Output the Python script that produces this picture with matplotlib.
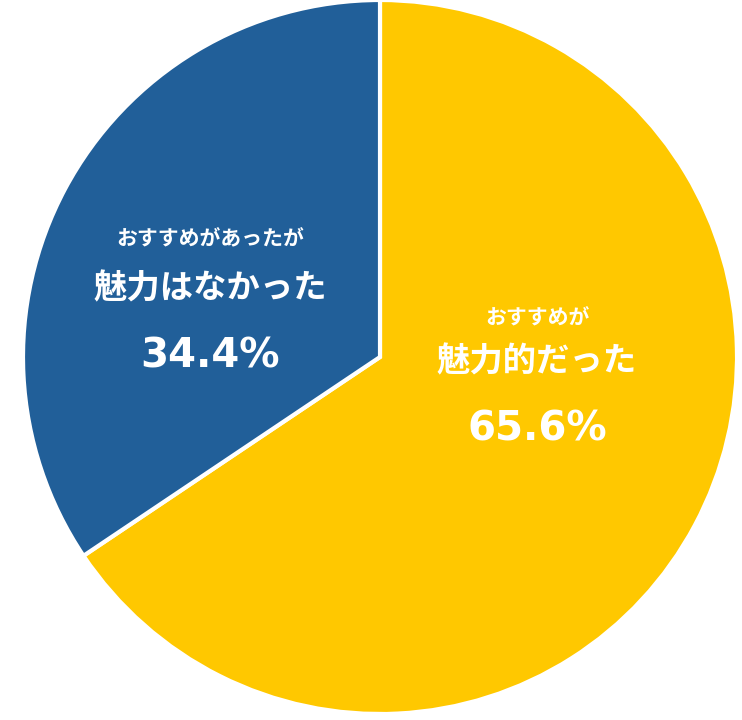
import matplotlib
matplotlib.use("Agg")
import matplotlib.pyplot as plt

plt.rcParams['font.family'] = ['Noto Sans CJK JP', 'DejaVu Sans']

values = [65.6, 34.4]
colors = ["#FFC800", "#215F99"]
small_labels = ["おすすめが", "おすすめがあったが"]
big_labels = ["魅力的だった", "魅力はなかった"]
pct_labels = ["65.6%", "34.4%"]

fig = plt.figure(figsize=(7.42, 7.2), dpi=100)
ax = fig.add_axes([23/742, 6/720, 714/742, 714/720])
ax.pie(values, colors=colors, startangle=90, counterclock=False,
       wedgeprops=dict(edgecolor="white", linewidth=3), radius=1.0)
ax.set_xlim(-1.0, 1.0)
ax.set_ylim(-1.0, 1.0)
ax.set_aspect("equal")
ax.axis("off")

pos_x = [0.44, -0.476]
pos_y = [(0.11, -0.014, -0.204), (0.33, 0.19, 0.0)]
for i in range(2):
    x = pos_x[i]
    ys, yb, yp = pos_y[i]
    ax.text(x, ys, small_labels[i], color="white", fontsize=15, fontweight="bold", ha="center", va="center")
    ax.text(x, yb, big_labels[i], color="white", fontsize=24, fontweight="bold", ha="center", va="center")
    ax.text(x, yp, pct_labels[i], color="white", fontsize=29, fontweight="bold", ha="center", va="center",
            family=["DejaVu Sans"])

fig.savefig("out.png", dpi=100, facecolor="white")
